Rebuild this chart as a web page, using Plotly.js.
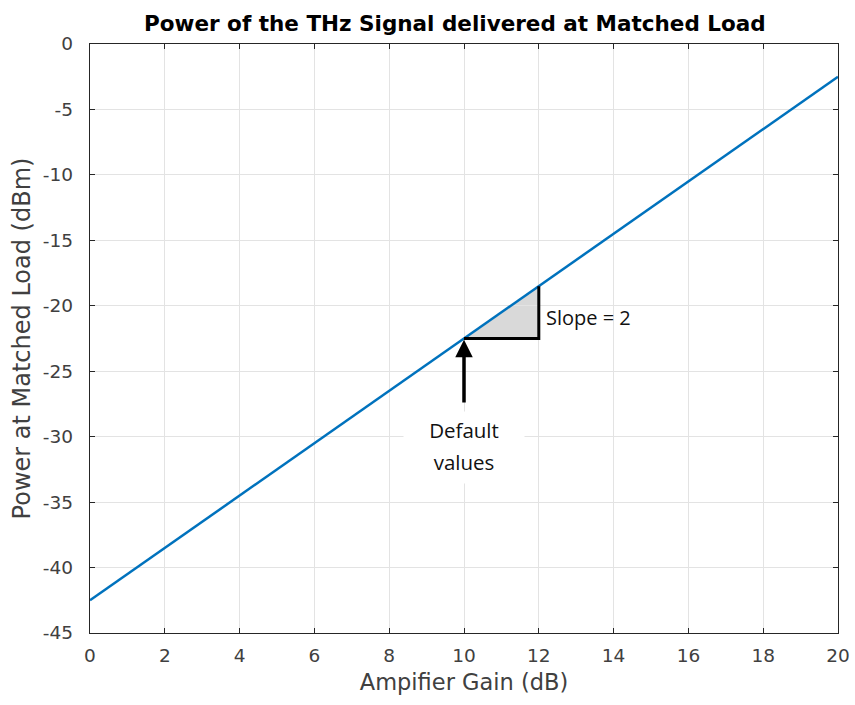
<!DOCTYPE html>
<html><head><meta charset="utf-8">
<script src="https://cdn.plot.ly/plotly-3.0.1.min.js"></script>
<style>html,body{margin:0;padding:0;background:#fff}</style>
</head><body>
<div id="chart" style="width:855px;height:705px"></div>
<script>
const gain = [0, 2, 4, 6, 8, 10, 12, 14, 16, 18, 20];
const power = [-42.5, -38.5, -34.5, -30.5, -26.5, -22.5, -18.5, -14.5, -10.5, -6.5, -2.5];
const xTicks = [0, 2, 4, 6, 8, 10, 12, 14, 16, 18, 20];
const yTicks = [0, -5, -10, -15, -20, -25, -30, -35, -40, -45];
const yTickText = ['0', '-5', '-10', '-15', '-20', '-25', '-30', '-35', '-40', '-45'];
const triGain = [10, 12];
const triPower = [-22.5, -18.5];
const arrowTail = [10, -27.5];
const slopeLabel = ['Slope = 2', 12.15, -20.9];
const defaultLines = ['Default', 'values'];
const defaultLineY = [-29.5, -31.95];
const defaultX = 10;

const axisCol = '#262626';
const fam = 'DejaVu Sans, sans-serif';
const tickFont = {family: fam, size: 18.5, color: '#404040'};
const annFont = {family: 'Open Sans, sans-serif', size: 20.5, color: '#111'};

const trace = {x: gain, y: power, mode: 'lines', line: {color: '#0072BD', width: 2.5}, hoverinfo: 'skip'};

const annotations = [
  {x: triGain[0], y: triPower[0] - 0.1, xref: 'x', yref: 'y', ax: arrowTail[0], ay: arrowTail[1], axref: 'x', ayref: 'y',
   showarrow: true, arrowhead: 2, arrowsize: 1, arrowwidth: 3.5, arrowcolor: '#000', text: ''},
  {x: slopeLabel[1], y: slopeLabel[2], xref: 'x', yref: 'y', text: slopeLabel[0], showarrow: false, xanchor: 'left', yanchor: 'middle',
   font: {family: 'Open Sans, sans-serif', size: 20, color: '#111'}}
];
defaultLines.forEach((t, i) => annotations.push({
  x: defaultX, y: defaultLineY[i], xref: 'x', yref: 'y', text: t, showarrow: false, xanchor: 'center', yanchor: 'middle',
  bgcolor: '#fff', borderpad: i === 0 ? 4 : 7, width: 112, font: annFont
}));

const layout = {
  width: 855, height: 705,
  margin: {l: 90, r: 17, t: 44, b: 72},
  paper_bgcolor: '#fff', plot_bgcolor: '#fff',
  showlegend: false,
  title: {text: '<b>Power of the THz Signal delivered at Matched Load</b>', x: 0.532, xanchor: 'center', y: 0.967, yanchor: 'middle',
    font: {family: fam, size: 21.5, color: '#000'}},
  xaxis: {range: [0, 20], tickvals: xTicks, ticks: 'inside', ticklen: 5, tickcolor: axisCol,
    showline: true, linecolor: axisCol, linewidth: 1.3, mirror: 'ticks', zeroline: false,
    showgrid: true, gridcolor: '#e3e3e3', gridwidth: 1, tickfont: tickFont, ticklabelstandoff: 5,
    title: {text: 'Ampifier Gain (dB)', font: {family: fam, size: 22.5, color: '#404040'}, standoff: 9}},
  yaxis: {range: [-45, 0], tickvals: yTicks, ticktext: yTickText, ticks: 'inside', ticklen: 5, tickcolor: axisCol,
    showline: true, linecolor: axisCol, linewidth: 1.3, mirror: 'ticks', zeroline: false,
    showgrid: true, gridcolor: '#e3e3e3', gridwidth: 1, tickfont: tickFont, ticklabelstandoff: 12,
    title: {text: 'Power at Matched Load (dBm)', font: {family: fam, size: 24, color: '#404040'}, standoff: 5}},
  shapes: [
    {type: 'path', xref: 'x', yref: 'y',
     path: `M ${triGain[0]} ${triPower[0]} L ${triGain[1]} ${triPower[0]} L ${triGain[1]} ${triPower[1]} Z`,
     fillcolor: '#d9d9d9', line: {width: 0}, layer: 'below'},
    {type: 'path', xref: 'x', yref: 'y',
     path: `M ${triGain[0]} ${triPower[0]} L ${triGain[1]} ${triPower[0]} L ${triGain[1]} ${triPower[1]}`,
     line: {color: '#000', width: 3}}
  ],
  annotations: annotations
};
Plotly.newPlot('chart', [trace], layout, {displayModeBar: false, staticPlot: true});
</script>
</body></html>
